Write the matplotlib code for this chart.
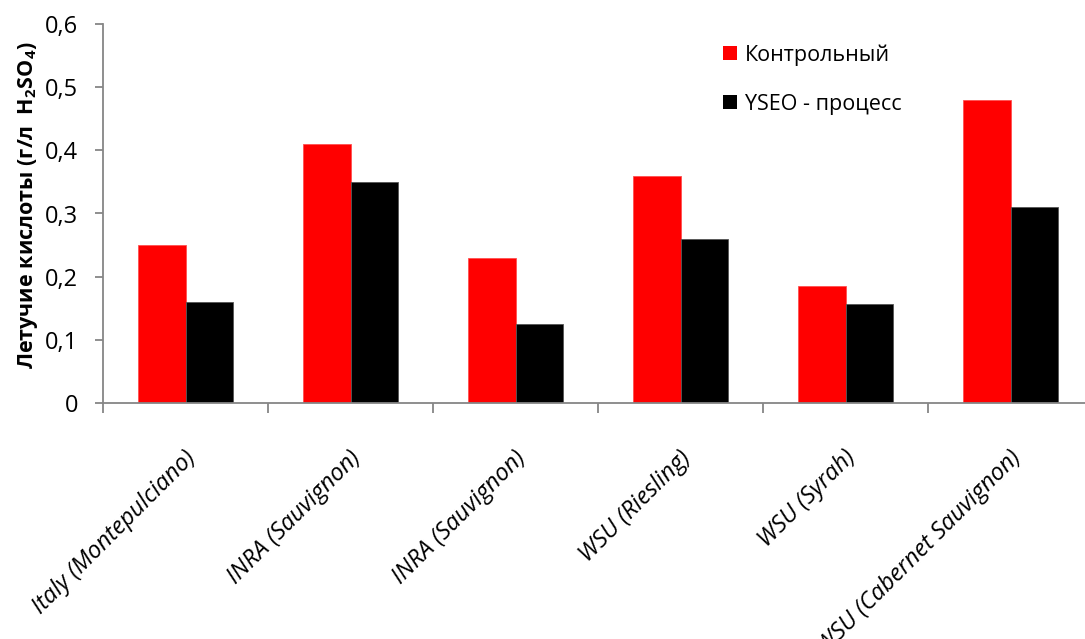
import matplotlib
matplotlib.use("Agg")
import matplotlib.pyplot as plt
from matplotlib.patches import Patch
from matplotlib.ticker import FuncFormatter
import numpy as np

plt.rcParams['font.family'] = ['Open Sans', 'DejaVu Sans']
plt.rcParams['mathtext.fontset'] = 'custom'
plt.rcParams['mathtext.rm'] = 'Open Sans'
plt.rcParams['mathtext.bf'] = 'Open Sans:bold'

categories = ["Italy (Montepulciano)", "INRA (Sauvignon)", "INRA (Sauvignon)",
              "WSU (Riesling)", "WSU (Syrah)", "WSU (Cabernet Sauvignon)"]
control = [0.25, 0.41, 0.23, 0.36, 0.185, 0.48]
yseo = [0.16, 0.35, 0.125, 0.26, 0.157, 0.31]
series_names = ["Контрольный", "YSEO - процесс"]
yticks = [0, 0.1, 0.2, 0.3, 0.4, 0.5, 0.6]

W, H = 1085, 639
fig = plt.figure(figsize=(W / 100, H / 100), dpi=100)
# axis runs a little past the right edge of the figure
ax = fig.add_axes([103 / W, 1 - 403 / H, 990 / W, (403 - 24) / H])

x = np.arange(len(categories))
bw = 0.285
ax.bar(x - bw / 2, control, bw, color='#ff0000', edgecolor='#ff5050', linewidth=0.6)
ax.bar(x + bw / 2, yseo, bw, color='#000000', edgecolor='#555555', linewidth=0.6)

ax.set_xlim(-0.5, len(categories) - 0.5)
ax.set_ylim(0, 0.6)
ax.set_yticks(yticks)
ax.yaxis.set_major_formatter(FuncFormatter(lambda v, p: ('%g' % v).replace('.', ',')))
ax.tick_params(axis='y', direction='out', length=6, width=1.3, color='#868686',
               labelsize=17, pad=12)

# category boundaries carry the x ticks, names sit at centres
ax.set_xticks(np.arange(len(categories) + 1) - 0.5)
ax.set_xticklabels([])
ax.tick_params(axis='x', direction='out', length=7, width=1.3, color='#868686')
for i, name in enumerate(categories):
    ax.annotate(name, xy=(i, 0), xycoords=('data', 'axes fraction'),
                xytext=(5, -37), textcoords='offset points',
                rotation=45, ha='right', va='center', rotation_mode='anchor',
                fontsize=17, style='italic')

for side in ['top', 'right']:
    ax.spines[side].set_visible(False)
for side in ['left', 'bottom']:
    ax.spines[side].set_color('#868686')
    ax.spines[side].set_linewidth(1.3)

fig.text(28 / W, 1 - 205 / H, r'Летучие кислоты (г/л  $\mathbf{H_2SO_4}$)',
         rotation=90, ha='center', va='center', fontsize=15.5, fontweight='bold')

handles = [Patch(facecolor='#ff0000'), Patch(facecolor='#000000')]
fig.legend(handles, series_names, loc='upper left',
           bbox_to_anchor=(704 / W, 1 - 25 / H), frameon=False,
           handlelength=0.65, handleheight=0.65, handletextpad=0.35,
           labelspacing=1.3, fontsize=15.5)

fig.savefig("out.png", dpi=100)
